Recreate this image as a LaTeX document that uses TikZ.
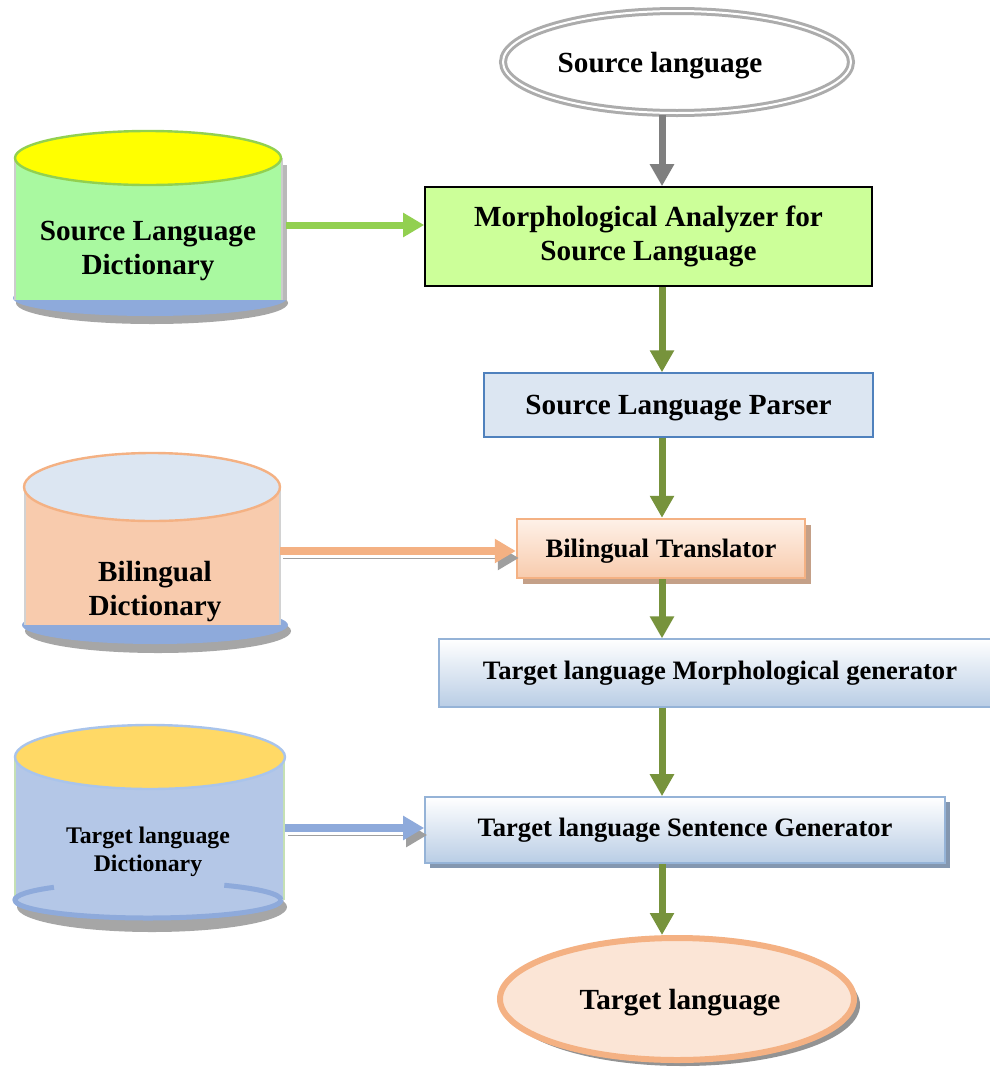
\documentclass[tikz,border=0pt]{standalone}
\usepackage{fontspec}
\setmainfont{Liberation Serif}
\usetikzlibrary{shapes.geometric,arrows.meta,shadows}

\definecolor{arrowolive}{HTML}{77933C}
\definecolor{arrowgray}{HTML}{7F7F7F}
\definecolor{arrowgreen}{HTML}{92D050}
\definecolor{arroworange}{HTML}{F4B183}
\definecolor{arrowblue}{HTML}{8EAADB}
\definecolor{morphfill}{HTML}{CCFF99}
\definecolor{parserfill}{HTML}{DCE6F2}
\definecolor{parserline}{HTML}{4F81BD}
\definecolor{transtop}{HTML}{FEF1E8}
\definecolor{transbottom}{HTML}{F8CBAD}
\definecolor{transshadow}{HTML}{C4A088}
\definecolor{genbottom}{HTML}{B9CDE5}
\definecolor{genline}{HTML}{95B3D7}
\definecolor{genshadow}{HTML}{8497B0}
\definecolor{tgtfill}{HTML}{FBE5D6}
\definecolor{sldtop}{HTML}{FFFF00}
\definecolor{sldbody}{HTML}{A9F9A0}
\definecolor{dbbase}{HTML}{8EAADB}
\definecolor{bdtop}{HTML}{DCE6F2}
\definecolor{bdbody}{HTML}{F8CBAD}
\definecolor{tdtop}{HTML}{FFD966}
\definecolor{tdbody}{HTML}{B4C7E7}
\definecolor{tdline}{HTML}{A9C4EB}
\definecolor{tdside}{HTML}{C5E0B4}

\tikzset{
  bigtxt/.style={font=\fontsize{14.6}{17}\selectfont\bfseries},
  midtxt/.style={font=\fontsize{13.3}{16}\selectfont\bfseries},
  smalltxt/.style={font=\fontsize{11.9}{14}\selectfont\bfseries},
  flowarrow/.style={line width=3.5pt, draw=arrowolive, -{Triangle[width=11.5pt,length=11pt]}},
  sidearrow/.style={line width=3.5pt, -{Triangle[width=11.5pt,length=10.5pt]}},
  shadowed/.style={preaction={draw=gray!75, transform canvas={shift={(1.5pt,-3.5pt)}}}}
}

\begin{document}
\begin{tikzpicture}[x=0.5pt,y=-0.5pt, every node/.style={align=center, inner sep=0pt}]
\useasboundingbox[fill=white] (0,0) rectangle (990,1071);

\coordinate (spine) at (662,0);

% main chain
\node[ellipse, draw=gray!65, double=white, double distance=1pt, line width=1.5pt,
      fill=white, minimum width=174pt, minimum height=51pt, text depth=0pt, bigtxt] (srclang) at (677,62) {\hspace*{-17pt}Source language};
\node[rectangle, draw=black, line width=0.8pt, fill=morphfill,
      minimum width=223.5pt, minimum height=49.5pt, bigtxt] (morph) at (648.5,236.5) {Morphological Analyzer for\\Source Language};
\node[rectangle, draw=parserline, line width=0.7pt, fill=parserfill,
      minimum width=194.5pt, minimum height=32pt, text depth=0pt, bigtxt] (parser) at (678.5,405) {Source Language Parser};
\node[rectangle, draw=arroworange, line width=1.2pt, top color=transtop, bottom color=transbottom,
      drop shadow={shadow xshift=3pt,shadow yshift=-3pt,fill=transshadow,opacity=1},
      minimum width=144pt, minimum height=29.5pt, text depth=0pt, midtxt] (trans) at (661,548.5) {Bilingual Translator};
\node[rectangle, draw=genline, line width=0.6pt, top color=white, bottom color=genbottom,
      minimum width=281pt, minimum height=34pt, midtxt] (morphgen) at (720,673) {\raisebox{2pt}{Target language Morphological generator}};
\node[rectangle, draw=genline, line width=0.8pt, top color=white, bottom color=genbottom,
      drop shadow={shadow xshift=2.5pt,shadow yshift=-2.5pt,fill=genshadow,opacity=1},
      minimum width=260pt, minimum height=33pt, midtxt] (sentgen) at (685,830) {\raisebox{1.5pt}{Target language Sentence Generator}};
\node[ellipse, draw=arroworange, line width=3pt, fill=tgtfill,
      drop shadow={shadow xshift=3pt,shadow yshift=-3pt,fill=gray!85,opacity=1},
      minimum width=177pt, minimum height=61pt, text depth=0pt, bigtxt] (tgtlang) at (677,999) {\hspace*{3pt}Target language};

\draw[line width=3.5pt, draw=arrowgray, -{Triangle[width=11.5pt,length=11pt]}] (srclang.south -| spine) -- (morph.north -| spine);
\draw[flowarrow] (morph.south -| spine) -- (parser.north -| spine);
\draw[flowarrow] (parser.south -| spine) -- (trans.north -| spine);
\draw[flowarrow] (trans.south -| spine) -- (morphgen.north -| spine);
\draw[flowarrow] (morphgen.south -| spine) -- (sentgen.north -| spine);
\draw[flowarrow] (sentgen.south -| spine) -- (tgtlang.north -| spine);

% source language dictionary
\fill[gray!70] (152,303) ellipse [x radius=136, y radius=21];
\fill[dbbase] (150,298) ellipse [x radius=137, y radius=18];
\fill[gray!55] (282,165) rectangle (287,300);
\fill[sldbody] (15,158) rectangle (282,300);
\draw[gray!40, line width=0.8pt] (15,158) -- (15,300) (282,158) -- (282,300);
\draw[line width=1.2pt, draw=arrowgreen, fill=sldtop] (148,158) ellipse [x radius=133, y radius=27];
\node[bigtxt] (sld) at (148,251) {Source Language\\Dictionary};
\coordinate (sldR) at (286,225);
\draw[sidearrow, draw=arrowgreen] (sldR) -- (sldR -| morph.west);

% bilingual dictionary
\fill[gray!70] (158,631) ellipse [x radius=133, y radius=22];
\fill[dbbase] (155,625) ellipse [x radius=133, y radius=19];
\fill[bdbody] (25,487) rectangle (280,625);
\draw[gray!35, line width=0.8pt] (25,487) -- (25,625) (280,487) -- (280,625);
\draw[line width=1.2pt, draw=arroworange, fill=bdtop] (152,487) ellipse [x radius=128, y radius=34];
\node[bigtxt] (bd) at (155,592) {Bilingual\\Dictionary};
\coordinate (bdR) at (280,551);
\draw[sidearrow, line width=4pt, draw=arroworange, shadowed] (bdR) -- (bdR -| trans.west);

% target language dictionary
\fill[gray!70] (152,907) ellipse [x radius=135, y radius=25];
\draw[line width=2.5pt, draw=dbbase, fill=tdbody] (148,900) ellipse [x radius=133, y radius=18];
\fill[tdbody] (15,757) rectangle (284,900);
\draw[tdside, line width=0.8pt] (15,757) -- (15,900) (284,757) -- (284,900);
\draw[line width=2.5pt, draw=dbbase] (15,900) arc [start angle=180, end angle=225, x radius=133, y radius=18];
\draw[line width=2.5pt, draw=dbbase] (281,900) arc [start angle=360, end angle=305, x radius=133, y radius=18];
\draw[line width=1.2pt, draw=tdline, fill=tdtop] (150,757) ellipse [x radius=135, y radius=32];
\node[smalltxt] (td) at (148,852) {Target language\\Dictionary};
\coordinate (tdR) at (285,828);
\draw[sidearrow, line width=4pt, draw=arrowblue, shadowed] (tdR) -- (tdR -| sentgen.west);
\end{tikzpicture}
\end{document}
